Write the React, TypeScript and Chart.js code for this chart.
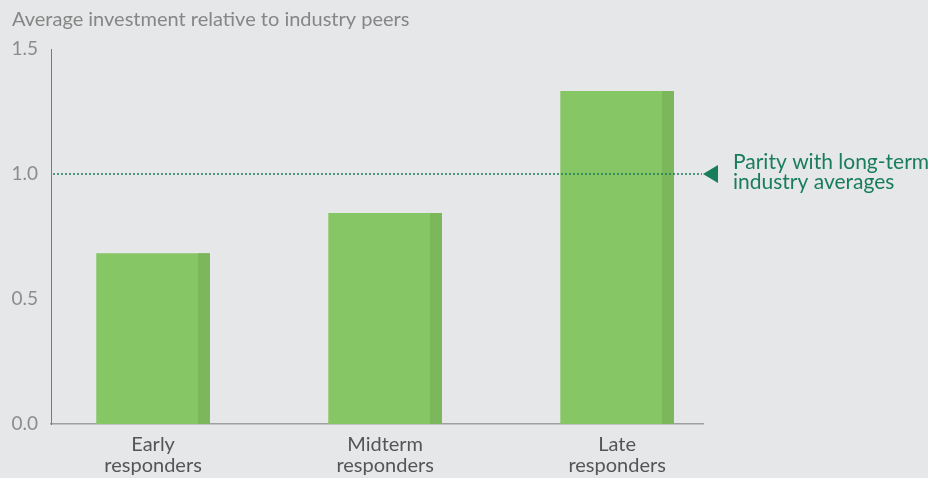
import React, { useEffect, useRef } from "react";
import { Chart, registerables } from "chart.js";

Chart.register(...registerables);

const titleText = "Average investment relative to industry peers";
const categoryLines: string[][] = [
  ["Early", "responders"],
  ["Midterm", "responders"],
  ["Late", "responders"],
];
const values = [0.683, 0.844, 1.332];
const yTicks = [0, 0.5, 1.0, 1.5];
const parityValue = 1.0;
const parityLabel = ["Parity with long-term", "industry averages"];

const BG = "#e6e7e8";
const BAR = "#86c664";
const BAR_DARK = "#7db75c";
const ANNO = "#187d5a";
const FONT = "Lato, 'Open Sans', sans-serif";

const stripPlugin = {
  id: "barStrip",
  afterDatasetsDraw(chart: any) {
    const ctx = chart.ctx;
    const meta = chart.getDatasetMeta(0);
    ctx.save();
    ctx.fillStyle = BAR_DARK;
    meta.data.forEach((el: any) => {
      const p = el.getProps(["x", "y", "base", "width"], true);
      const sw = p.width * 0.105;
      ctx.fillRect(p.x + p.width / 2 - sw, p.y, sw, p.base - p.y);
    });
    ctx.restore();
  },
};

const parityPlugin = {
  id: "parity",
  afterDatasetsDraw(chart: any) {
    const ctx = chart.ctx;
    const area = chart.chartArea;
    const y = chart.scales.y.getPixelForValue(parityValue);
    ctx.save();
    ctx.strokeStyle = ANNO;
    ctx.lineWidth = 1.5;
    ctx.setLineDash([2, 2]);
    ctx.beginPath();
    ctx.moveTo(area.left + 2, y);
    ctx.lineTo(area.right - 1, y);
    ctx.stroke();
    ctx.setLineDash([]);
    ctx.fillStyle = ANNO;
    ctx.beginPath();
    ctx.moveTo(area.right, y);
    ctx.lineTo(area.right + 15, y - 9);
    ctx.lineTo(area.right + 15, y + 9);
    ctx.closePath();
    ctx.fill();
    ctx.font = `21px ${FONT}`;
    ctx.textBaseline = "middle";
    ctx.textAlign = "left";
    ctx.fillText(parityLabel[0], area.right + 30, y - 12);
    ctx.fillText(parityLabel[1], area.right + 30, y + 8);
    ctx.restore();
  },
};

export default function App() {
  const ref = useRef<HTMLCanvasElement | null>(null);
  useEffect(() => {
    if (!ref.current) return;
    const chart = new Chart(ref.current, {
      type: "bar",
      data: {
        datasets: [
          {
            data: values.map((v, i) => ({ x: i, y: v })),
            backgroundColor: BAR,
            borderWidth: 0,
            categoryPercentage: 1,
            barPercentage: 0.49,
          },
        ],
      },
      options: {
        responsive: false,
        animation: false,
        layout: { padding: { left: 12, right: 225, top: 0, bottom: 0 } },
        plugins: {
          legend: { display: false },
          tooltip: { enabled: false },
          title: {
            display: true,
            text: titleText,
            align: "start",
            color: "#868686",
            font: { family: FONT, size: 20, weight: "normal", lineHeight: 1.2 },
            padding: { top: 8, bottom: 17 },
          },
        },
        scales: {
          x: {
            type: "linear",
            offset: false,
            min: -0.44,
            max: 2.37,
            afterBuildTicks: (scale: any) => {
              scale.ticks = categoryLines.map((_, i) => ({ value: i }));
            },
            afterFit: (scale: any) => {
              scale.height = 54;
            },
            grid: { display: false, drawTicks: false, offset: false },
            border: { display: true, color: "#a0a0a0", width: 1.5 },
            ticks: {
              padding: 10,
              color: "#555555",
              font: { family: FONT, size: 20, lineHeight: 1.05 },
              maxRotation: 0,
              autoSkip: false,
              callback: (v: any) => categoryLines[Math.round(Number(v))] || "",
            },
          },
          y: {
            min: yTicks[0],
            max: yTicks[yTicks.length - 1],
            afterBuildTicks: (scale: any) => {
              scale.ticks = yTicks.map((v) => ({ value: v }));
            },
            afterFit: (scale: any) => {
              scale.width = 39;
            },
            grid: { display: false, drawTicks: false },
            border: { display: true, color: "#7a7a7a", width: 1 },
            ticks: {
              padding: 13,
              color: "#8c8c8c",
              font: { family: FONT, size: 19 },
              callback: (v: any) => Number(v).toFixed(1),
            },
          },
        },
      },
      plugins: [stripPlugin, parityPlugin],
    });
    return () => chart.destroy();
  }, []);
  return (
    <div style={{ position: "fixed", left: 0, top: 0, width: 928, height: 478, background: BG }}>
      <canvas ref={ref} width={928} height={478} style={{ display: "block" }} />
    </div>
  );
}
